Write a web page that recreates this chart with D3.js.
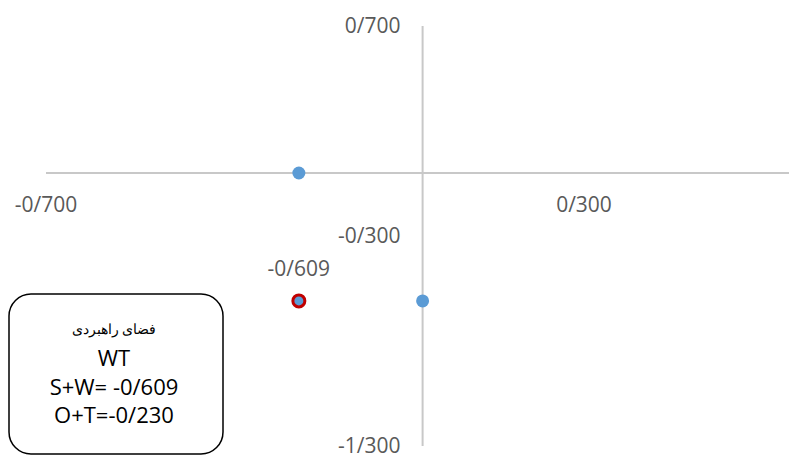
<!DOCTYPE html>
<html>
<head>
<meta charset="utf-8">
<script src="https://cdn.jsdelivr.net/npm/d3@7"></script>
<style>
  html, body { margin: 0; padding: 0; background: #fff; }
  svg { display: block; }
  text { font-family: "Open Sans", "Noto Sans", sans-serif; fill: #595959; }
</style>
</head>
<body>
<div id="chart"></div>
<script>
// Strategic position (WT quadrant) data
const xTicks = [-0.7, 0.3];
const yTicks = [0.7, -0.3, -1.3];
const axisPoints = [
  { x: -0.230, y: 0 },
  { x: 0, y: -0.609 }
];
const resultPoint = [{ x: -0.230, y: -0.609, label: "-0/609" }];
const boxLines = ["فضای راهبردی", "WT", "S+W= -0/609", "O+T=-0/230"];

const width = 789, height = 458;
const fmt = v => (v < 0 ? "-" : "") + d3.format(".3f")(Math.abs(v)).replace(".", "/");

const svg = d3.select("#chart").append("svg")
  .attr("width", width).attr("height", height);

const x = d3.scaleLinear().domain([-0.7, 0.7]).range([46, 46 + 1.4 * 538]);
const y = d3.scaleLinear().domain([0.7, -1.3]).range([26, 446]);

// axis lines crossing at the origin
svg.append("line")
  .attr("x1", x(-0.7)).attr("x2", x(0.7))
  .attr("y1", y(0)).attr("y2", y(0))
  .attr("stroke", "#c8c8c8").attr("stroke-width", 2);
svg.append("line")
  .attr("x1", x(0)).attr("x2", x(0))
  .attr("y1", y(0.7)).attr("y2", y(-1.3))
  .attr("stroke", "#c8c8c8").attr("stroke-width", 2);

// x tick labels below the horizontal axis
svg.selectAll(".xt").data(xTicks).enter().append("text")
  .attr("class", "xt")
  .attr("x", d => x(d)).attr("y", y(0) + 39)
  .attr("text-anchor", "middle")
  .style("font-size", "21px")
  .text(fmt);

// y tick labels left of the vertical axis
svg.selectAll(".yt").data(yTicks).enter().append("text")
  .attr("class", "yt")
  .attr("x", x(0) - 22).attr("y", d => y(d))
  .attr("dy", "0.35em")
  .attr("text-anchor", "end")
  .style("font-size", "21px")
  .text(fmt);

// points on the axes
svg.selectAll(".pt").data(axisPoints).enter().append("circle")
  .attr("class", "pt")
  .attr("cx", d => x(d.x)).attr("cy", d => y(d.y))
  .attr("r", 6.5).attr("fill", "#5b9bd5");

// resulting strategic point
svg.selectAll(".res").data(resultPoint).enter().append("circle")
  .attr("class", "res")
  .attr("cx", d => x(d.x)).attr("cy", d => y(d.y))
  .attr("r", 6).attr("fill", "#5b9bd5")
  .attr("stroke", "#c00000").attr("stroke-width", 3);
svg.selectAll(".resl").data(resultPoint).enter().append("text")
  .attr("class", "resl")
  .attr("x", d => x(d.x)).attr("y", d => y(d.y) - 25)
  .attr("text-anchor", "middle")
  .style("font-size", "21px")
  .text(d => d.label);

// summary box
const box = svg.append("g");
box.append("rect")
  .attr("x", 9).attr("y", 294).attr("width", 214).attr("height", 160)
  .attr("rx", 22).attr("ry", 22)
  .attr("fill", "#fff").attr("stroke", "#000").attr("stroke-width", 1.5);
box.selectAll("text").data(boxLines).enter().append("text")
  .attr("x", 114)
  .attr("y", (d, i) => [329, 358, 387, 415][i])
  .attr("dy", "0.35em")
  .attr("text-anchor", "middle")
  .style("fill", "#000")
  .style("font-size", (d, i) => i === 0 ? "14px" : "22px")
  .text(d => d);
</script>
</body>
</html>
